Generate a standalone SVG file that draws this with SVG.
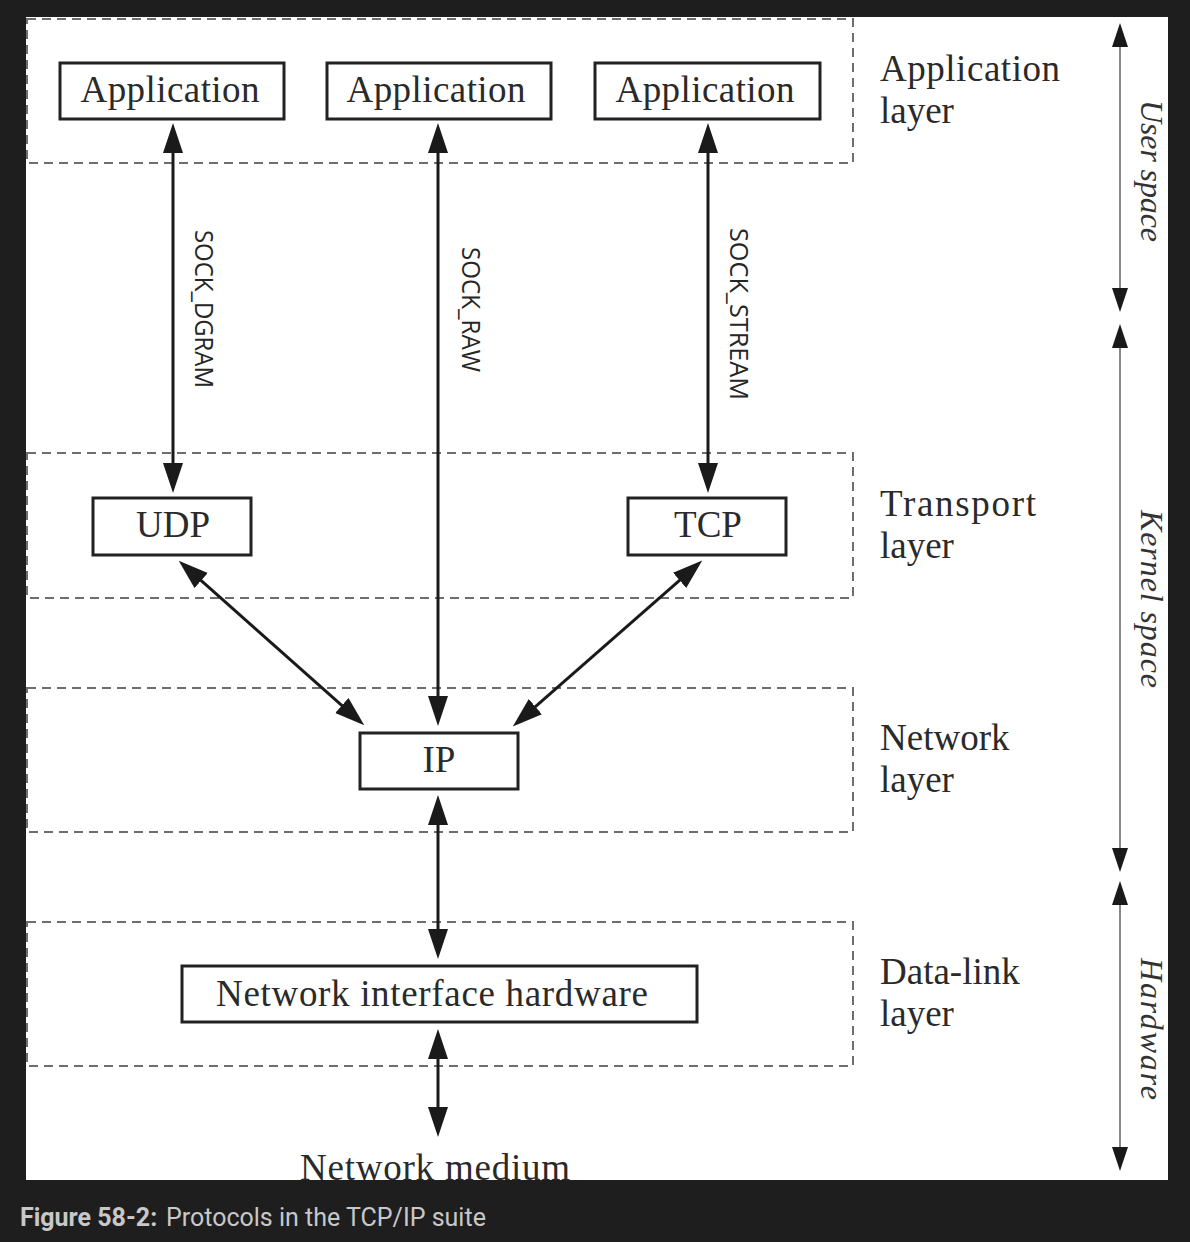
<svg xmlns="http://www.w3.org/2000/svg" width="1190" height="1242" viewBox="0 0 1190 1242">
<style>
.layer{fill:none;stroke:#6e6e6e;stroke-width:2;stroke-dasharray:9 6}
.box{fill:#fff;stroke:#222;stroke-width:3}
.t{font-family:"Liberation Serif","Times New Roman",serif;font-size:37px;fill:#2a2a2a}
.tc{text-anchor:middle}
.sock{font-family:"Open Sans","DejaVu Sans",sans-serif;font-size:26px;fill:#262626}
.side{font-family:"Liberation Serif","Times New Roman",serif;font-style:italic;font-size:32px;fill:#333}
.arr{stroke:#1a1a1a;stroke-width:3;fill:none;marker-start:url(#ah);marker-end:url(#ah)}
.sarr{stroke:#8a8a8a;stroke-width:2;fill:none;marker-start:url(#sh);marker-end:url(#sh)}
.cap{font-family:"Roboto","Liberation Sans",sans-serif;font-size:25px;fill:#c8c8c8}
</style>
<defs>
<marker id="ah" markerUnits="userSpaceOnUse" viewBox="0 -11 32 22" markerWidth="32" markerHeight="22" refX="1" refY="0" orient="auto-start-reverse">
<path d="M0,-10 L30,0 L0,10 z" fill="#1a1a1a"/>
</marker>
<marker id="sh" markerUnits="userSpaceOnUse" viewBox="0 -9 26 18" markerWidth="26" markerHeight="18" refX="1" refY="0" orient="auto-start-reverse">
<path d="M0,-8 L24,0 L0,8 z" fill="#1a1a1a"/>
</marker>
</defs>
<rect x="0" y="0" width="1190" height="1242" fill="#1e1e1e"/>
<rect x="26" y="17" width="1142" height="1163" fill="#fff"/>

<g id="layers">
<g id="app-layer"><rect class="layer" x="27" y="19" width="826" height="144"/>
<text class="t" x="880" y="81" textLength="180">Application</text><text class="t" x="880" y="123">layer</text></g>
<g id="transport-layer"><rect class="layer" x="27" y="453" width="826" height="145"/>
<text class="t" x="880" y="516" textLength="156">Transport</text><text class="t" x="880" y="558">layer</text></g>
<g id="network-layer"><rect class="layer" x="27" y="688" width="826" height="144"/>
<text class="t" x="880" y="750">Network</text><text class="t" x="880" y="792">layer</text></g>
<g id="datalink-layer"><rect class="layer" x="27" y="922" width="826" height="144"/>
<text class="t" x="880" y="984">Data-link</text><text class="t" x="880" y="1026">layer</text></g>
</g>

<g id="connectors">
<line class="arr" x1="173" y1="152" x2="173" y2="464"/>
<line class="arr" x1="438" y1="152" x2="438" y2="697"/>
<line class="arr" x1="708" y1="152" x2="708" y2="464"/>
<line class="arr" x1="200.4" y1="579.9" x2="342.6" y2="706.1"/>
<line class="arr" x1="680.4" y1="579.7" x2="534.6" y2="707.3"/>
<line class="arr" x1="438" y1="824" x2="438" y2="930"/>
<line class="arr" x1="438" y1="1058" x2="438" y2="1108"/>
<line class="sarr" x1="1120" y1="46" x2="1120" y2="289"/>
<line class="sarr" x1="1120" y1="347" x2="1120" y2="849"/>
<line class="sarr" x1="1120" y1="904" x2="1120" y2="1148"/>
<text class="sock" transform="translate(195,230) rotate(90)" textLength="158" lengthAdjust="spacingAndGlyphs">SOCK_DGRAM</text>
<text class="sock" transform="translate(462,247) rotate(90)" textLength="125" lengthAdjust="spacingAndGlyphs">SOCK_RAW</text>
<text class="sock" transform="translate(730,228) rotate(90)" textLength="172" lengthAdjust="spacingAndGlyphs">SOCK_STREAM</text>
</g>

<g id="app1"><rect class="box" x="60" y="63" width="224" height="56"/><text class="t tc" x="170" y="102" textLength="179">Application</text></g>
<g id="app2"><rect class="box" x="327" y="63" width="224" height="56"/><text class="t tc" x="436" y="102" textLength="179">Application</text></g>
<g id="app3"><rect class="box" x="595" y="63" width="225" height="56"/><text class="t tc" x="705" y="102" textLength="179">Application</text></g>
<g id="udp"><rect class="box" x="93" y="498" width="158" height="57"/><text class="t tc" x="173" y="537">UDP</text></g>
<g id="tcp"><rect class="box" x="628" y="498" width="158" height="57"/><text class="t tc" x="708" y="537">TCP</text></g>
<g id="ip"><rect class="box" x="360" y="733" width="158" height="56"/><text class="t tc" x="439" y="772">IP</text></g>
<g id="nih"><rect class="box" x="182" y="966" width="515" height="56"/><text class="t tc" x="432" y="1006" textLength="432">Network interface hardware</text></g>
<g id="medium"><text class="t tc" x="435" y="1180" textLength="270">Network medium</text></g>

<g id="spaces">
<text class="side" transform="translate(1141,100) rotate(90)" textLength="142">User space</text>
<text class="side" transform="translate(1141,510) rotate(90)" textLength="178">Kernel space</text>
<text class="side" transform="translate(1141,958) rotate(90)" textLength="142">Hardware</text>
</g>

<rect x="0" y="1180" width="1190" height="62" fill="#1e1e1e"/>
<rect x="1168" y="0" width="22" height="1242" fill="#1e1e1e"/>
<g id="caption">
<text class="cap" x="20" y="1226" font-weight="bold" font-size="24">Figure 58-2:</text>
<text class="cap" x="166" y="1226">Protocols in the TCP/IP suite</text>
</g>
</svg>
